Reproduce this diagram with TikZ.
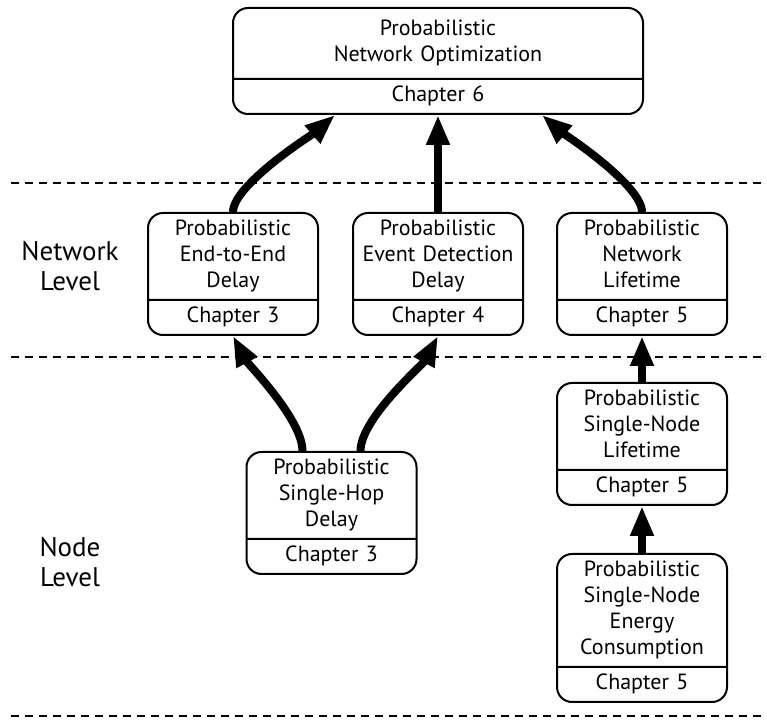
\documentclass[tikz,border=0pt]{standalone}
\usepackage{fontspec}
\setmainfont{PT Sans}
\usetikzlibrary{shapes.multipart,arrows.meta}
\begin{document}
\begin{tikzpicture}[x=0.5pt,y=-0.5pt,
  chapbox/.style={draw,line width=1pt,rounded corners=7.5pt,rectangle split,
    rectangle split parts=2,text width=81pt,inner xsep=2pt,inner ysep=1.75pt,
    align=center,anchor=north,font=\fontsize{11}{13}\selectfont},
  widebox/.style={chapbox,text width=201pt},
  levellabel/.style={align=center,font=\fontsize{13.5}{15}\selectfont},
  levelline/.style={line width=0.75pt,dash pattern=on 4pt off 3pt},
  flow/.style={line width=4pt,-{Triangle[length=15pt,width=11pt]}}]
\useasboundingbox (0,0) rectangle (767,727);
\draw[levelline] (11,183) -- (767,183);
\draw[levelline] (11,357) -- (767,357);
\draw[levelline] (11,716) -- (767,716);
\node[levellabel] (netlevel) at (70,266) {Network\\Level};
\node[levellabel] (nodelevel) at (70,562) {Node\\Level};
\node[widebox] (opt) at (438,7) {\rule{0pt}{11.6pt}Probabilistic\\Network Optimization\rule[-6.4pt]{0pt}{6.4pt}\nodepart{two}\strut Chapter 6\strut};
\node[chapbox] (e2e) at (233,212) {\strut Probabilistic\\End-to-End\\Delay\strut\nodepart{two}\strut Chapter 3\strut};
\node[chapbox] (event) at (438,212) {\strut Probabilistic\\Event Detection\\Delay\strut\nodepart{two}\strut Chapter 4\strut};
\node[chapbox] (netlife) at (642,212) {\strut Probabilistic\\Network\\Lifetime\strut\nodepart{two}\strut Chapter 5\strut};
\node[chapbox] (hop) at (331.5,451) {\strut Probabilistic\\Single-Hop\\Delay\strut\nodepart{two}\strut Chapter 3\strut};
\node[chapbox] (nodelife) at (642,382) {\strut Probabilistic\\Single-Node\\Lifetime\strut\nodepart{two}\strut Chapter 5\strut};
\node[chapbox] (energy) at (642,553) {\strut Probabilistic\\Single-Node\\Energy\\Consumption\strut\nodepart{two}\strut Chapter 5\strut};
\draw[flow] (e2e.north) to[out=90,in=-139,looseness=0.5] ([xshift=-51.5pt]opt.south);
\draw[flow] (event.north) -- (opt.south);
\draw[flow] (netlife.north) to[out=90,in=-41,looseness=0.5] ([xshift=52pt]opt.south);
\draw[flow] ([xshift=-14.5pt]hop.north) to[out=90,in=-62,looseness=0.6] (e2e.south);
\draw[flow] ([xshift=14.5pt]hop.north) to[out=90,in=-118,looseness=0.6] (event.south);
\draw[flow] (nodelife.north) -- (netlife.south);
\draw[flow] (energy.north) -- (nodelife.south);
\end{tikzpicture}
\end{document}
